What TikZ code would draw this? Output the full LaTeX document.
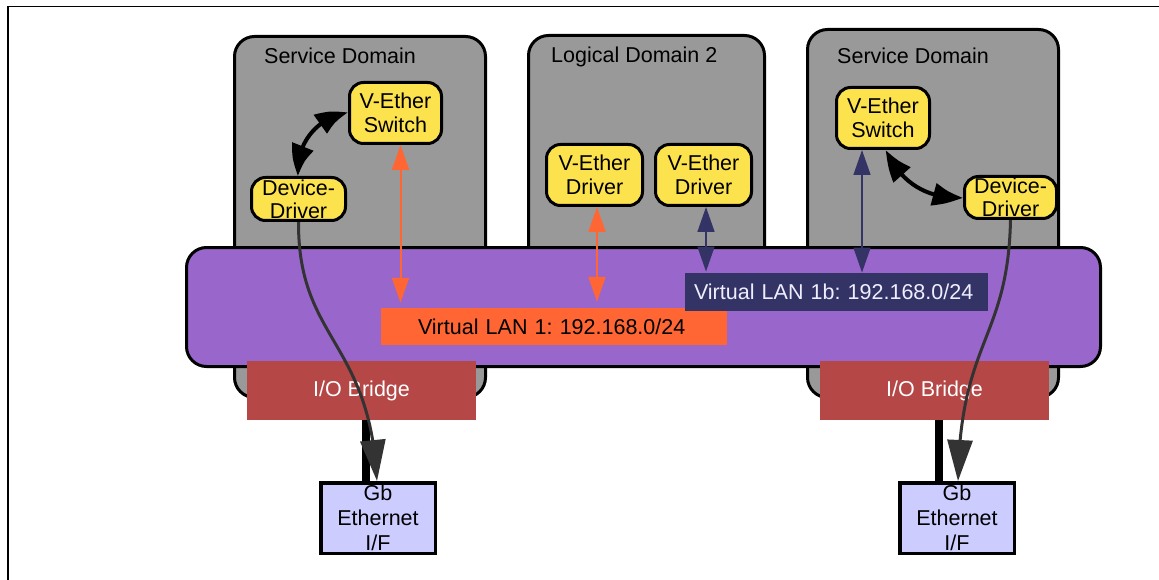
\documentclass[tikz,border=0pt]{standalone}
\usepackage{fontspec}
\setmainfont{Liberation Sans}
\usetikzlibrary{arrows.meta,bending}
\frenchspacing
\definecolor{domgray}{RGB}{153,153,153}
\definecolor{yel}{RGB}{252,226,77}
\definecolor{purp}{RGB}{153,102,204}
\definecolor{orng}{RGB}{255,102,51}
\definecolor{navy}{RGB}{51,51,102}
\definecolor{iored}{RGB}{181,71,71}
\definecolor{gbblue}{RGB}{204,204,255}
\definecolor{darkg}{RGB}{51,51,51}
\definecolor{paletxt}{RGB}{238,238,255}
\begin{document}
\begin{tikzpicture}[x=1pt,y=1pt,
  font=\fontsize{21.5}{24}\selectfont,
  domainbox/.style={draw=black, line width=3pt, fill=domgray, rounded corners=20pt, inner sep=0pt},
  ybox/.style={draw=black, line width=3pt, fill=yel, rounded corners=14pt, align=center, inner sep=0pt},
  iobox/.style={fill=iored, text=white, inner sep=0pt, minimum width=229pt, minimum height=59pt},
  gbbox/.style={draw=black, line width=3.5pt, fill=gbblue, inner sep=0pt, align=center, minimum width=114.5pt, minimum height=70.5pt, font=\fontsize{21.5}{25}\selectfont},
  orarrow/.style={draw=orng, line width=2pt, {Triangle[length=25pt,width=17pt]}-{Triangle[length=25pt,width=17pt]}},
  nvarrow/.style={draw=navy, line width=1.6pt, {Triangle[length=25pt,width=17pt]}-{Triangle[length=25pt,width=17pt]}},
  blkcurve/.style={draw=black, line width=4pt, {Triangle[length=31pt,width=22pt,bend]}-{Triangle[length=31pt,width=22pt,bend]}},
  ddcurve/.style={draw=darkg, line width=3pt, -{Triangle[length=41pt,width=25pt]}},
  ddtext/.style={font=\fontsize{21.5}{23}\selectfont},
  bar/.style={draw=black, line width=8pt}
]
\useasboundingbox (0,0) rectangle (1159,-580);
% partial frame
\draw[line width=1.5pt] (1159,-6.5) -- (8,-6.5) -- (8,-580);

% domains
\node[domainbox, minimum width=251pt, minimum height=361pt] (sd1) at (360,-217) {};
\node[domainbox, minimum width=236pt, minimum height=293pt] (ld2) at (646.5,-182) {};
\node[domainbox, minimum width=251pt, minimum height=368pt] (sd2) at (933,-213.5) {};
\node[anchor=base west, inner sep=0pt] (t1) at (264,-64) {Service Domain};
\node[anchor=base west, inner sep=0pt] (t2) at (551,-63) {Logical Domain 2};
\node[anchor=base west, inner sep=0pt] (t3) at (837,-64) {Service Domain};

% LAN bar
\node[draw=black, line width=3pt, fill=purp, rounded corners=20pt, minimum width=914pt, minimum height=119pt] (lan) at (643.5,-307) {};
\node[fill=orng, inner xsep=37pt, inner ysep=0pt, text width=272pt, align=left, minimum height=37.5pt] (vlan1) at (554,-326.7) {Virtual LAN 1: 192.168.0/24};
\node[fill=navy, text=paletxt, inner xsep=9pt, inner ysep=0pt, text width=285pt, align=left, minimum height=38.5pt] (vlan1b) at (836.5,-292) {Virtual LAN 1b: 192.168.0/24};

% I/O bridges and Gb ethernet
\node[iobox] (iob1) at (361.5,-390.5) {I/O Bridge};
\node[iobox] (iob2) at (934.5,-390.5) {I/O Bridge};
\node[gbbox] (gb1) at (378,-518) {Gb\\Ethernet\\I/F};
\node[gbbox] (gb2) at (957,-518) {Gb\\Ethernet\\I/F};
\draw[bar] ([xshift=4.5pt]iob1.south) -- ([xshift=-12pt]gb1.north);
\draw[bar] ([xshift=4pt]iob2.south) -- ([xshift=-18.5pt]gb2.north);

% yellow nodes
\node[ybox, minimum width=92pt, minimum height=61pt] (sw1) at (395.5,-113) {V-Ether\\Switch};
\node[ybox, ddtext, minimum width=94pt, minimum height=43pt] (dd1) at (298.5,-199) {Device-\\Driver};
\node[ybox, minimum width=96pt, minimum height=61pt] (drv1) at (594.5,-175) {V-Ether\\Driver};
\node[ybox, minimum width=96pt, minimum height=61pt] (drv2) at (703.5,-175) {V-Ether\\Driver};
\node[ybox, minimum width=93pt, minimum height=61pt] (sw2) at (883,-118) {V-Ether\\Switch};
\node[ybox, ddtext, minimum width=92pt, minimum height=42pt] (dd2) at (1010.5,-197.5) {Device-\\Driver};

% virtual LAN arrows
\draw[orarrow, shorten >=5pt] ([xshift=5pt]sw1.south) -- ([xshift=5pt]sw1.south |- vlan1.north);
\draw[orarrow, shorten >=6pt] ([xshift=2.5pt]drv1.south) -- ([xshift=2.5pt]drv1.south |- vlan1.north);
\draw[nvarrow, shorten >=1pt] ([xshift=2.5pt]drv2.south) -- ([xshift=2.5pt]drv2.south |- vlan1b.north);
\draw[nvarrow] ([xshift=-21pt]sw2.south) -- ([xshift=-21pt]sw2.south |- vlan1b.north);

% switch - driver arrows
\draw[blkcurve] (sw1.west) to[bend right=45] (dd1.north);
\draw[blkcurve] ([xshift=3pt]sw2.south) to[bend right=35] (dd2.west);

% device driver to ethernet
\draw[ddcurve] (dd1.south) .. controls (298,-340) and (370,-340) .. ([xshift=-1pt]gb1.north);
\draw[ddcurve] (dd2.south) .. controls (1008,-340) and (960,-340) .. ([xshift=1pt]gb2.north);
\end{tikzpicture}
\end{document}
